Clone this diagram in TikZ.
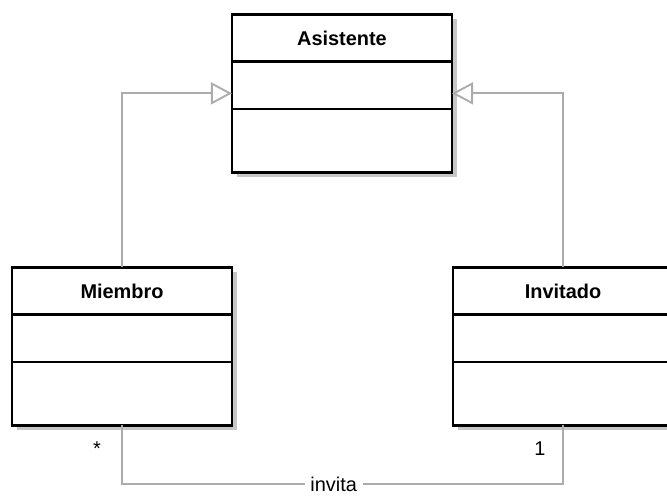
\documentclass[tikz,border=0pt]{standalone}
\usepackage{fontspec}
\setmainfont{Liberation Sans}
\usetikzlibrary{positioning,shadows,arrows.meta}

\begin{document}
\begin{tikzpicture}[x=0.03cm,y=-0.03cm,
    umlpart/.style={draw,line width=2.4pt,fill=white,minimum width=6.6cm,inner sep=0pt,outer sep=0pt,
        drop shadow={shadow xshift=0.15cm,shadow yshift=-0.15cm,fill=gray!45,opacity=1}},
    umlhead/.style={umlpart,minimum height=1.42cm,font=\fontsize{17}{20}\selectfont\bfseries},
    umlattr/.style={umlpart,minimum height=1.42cm},
    umlops/.style={umlpart,minimum height=1.9cm},
    inherit/.style={draw=gray!65,line width=1.6pt,-{Triangle[open,length=0.63cm,width=0.66cm,fill=white]}},
    assoc/.style={draw=gray!65,line width=1.6pt},
    mult/.style={font=\fontsize{17}{20}\selectfont,inner sep=0pt,anchor=base}]
            \useasboundingbox (0,0) rectangle (667,495);
            \clip (0,0) rectangle (667,495);

            \node[umlhead] (asistHead) at (342,38) {Asistente};
            \node[umlattr,below=0pt of asistHead] (asistAttr) {};
            \node[umlops,below=0pt of asistAttr] (asistOps) {};
            \path (asistHead.north west) -- (asistOps.south west) coordinate[pos=0.5] (asistLeft);
            \path (asistHead.north east) -- (asistOps.south east) coordinate[pos=0.5] (asistRight);

            \node[umlhead] (miembHead) at (122,291) {Miembro};
            \node[umlattr,below=0pt of miembHead] (miembAttr) {};
            \node[umlops,below=0pt of miembAttr] (miembOps) {};

            \node[umlhead] (invHead) at (563,291) {Invitado};
            \node[umlattr,below=0pt of invHead] (invAttr) {};
            \node[umlops,below=0pt of invAttr] (invOps) {};

            \draw[inherit] (miembHead.north) |- (asistLeft);
            \draw[inherit] (invHead.north) |- (asistRight);

            \coordinate (bottomLine) at (0,484);
            \draw[assoc] (miembOps.south) -- (miembOps.south |- bottomLine)
                -- node[pos=0.48,fill=white,font=\fontsize{17}{20}\selectfont,inner xsep=5pt,inner ysep=1pt] (invitaLbl) {invita}
                (invOps.south |- bottomLine) -- (invOps.south);
            \node[mult] (miembMult) at (97,455) {*};
            \node[mult] (invMult) at (540,455) {1};
\end{tikzpicture}
\end{document}
